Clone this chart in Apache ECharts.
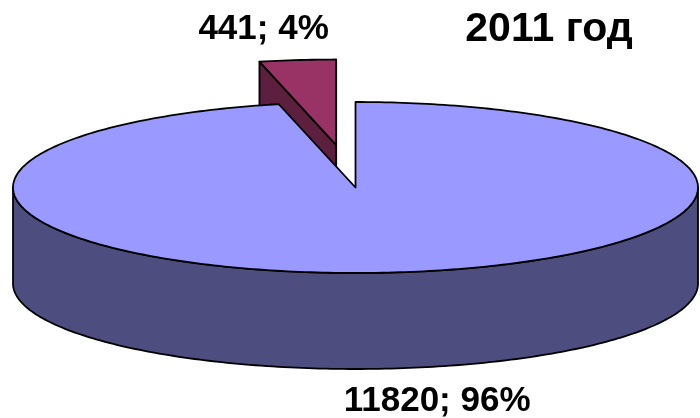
<!doctype html>
<html lang="ru">
  <head>
    <meta charset="UTF-8" />
    <title>2011 год</title>
    <style>
      html, body { margin: 0; padding: 0; background: #fff; }
      #pieChart { width: 700px; height: 418px; }
    </style>
  </head>
  <body>
    <div id="pieChart"></div>

    <script src="https://cdn.jsdelivr.net/npm/echarts@6/dist/echarts.min.js"></script>
    <script>
      // данные
      const titleText = '2011 год'
      const names = ['Большой', 'Малый']
      const values = [11820, 441]

      // оформление
      const topColors = ['#9999ff', '#993366']
      const sideColors = ['#4d4d80', '#5c1f3d']
      const explode = [0, 0.5]
      const labelShift = [[43, 33], [-34, -31]]

      const total = values.reduce((a, b) => a + b, 0)
      const geo = { cx: 355.5, cy: 187.5, rx: 342.5, ry: 85.5, depth: 96 }
      const rad = (d) => (d * Math.PI) / 180

      function pt(deg, r, dz, ox, oy) {
        return [
          geo.cx + ox + geo.rx * r * Math.sin(rad(deg)),
          geo.cy + oy - geo.ry * r * Math.cos(rad(deg)) + dz
        ]
      }
      function arc(a0, a1, dz, ox, oy) {
        const pts = []
        const n = Math.max(2, Math.ceil(Math.abs(a1 - a0)))
        for (let k = 0; k <= n; k++) pts.push(pt(a0 + ((a1 - a0) * k) / n, 1, dz, ox, oy))
        return pts
      }

      function renderItem(params, api) {
        const i = params.dataIndex
        const v = api.value(0)
        let before = 0
        for (let k = 0; k < i; k++) before += values[k]
        const a0 = (before / total) * 360
        const a1 = a0 + (v / total) * 360
        const mid = (a0 + a1) / 2
        const e = explode[i]
        const ox = geo.rx * e * Math.sin(rad(mid))
        const oy = -geo.ry * e * Math.cos(rad(mid))
        const base = Math.round((1 - Math.cos(rad(mid))) * 10)
        const line = { stroke: '#000', lineWidth: 1.8, lineJoin: 'round' }
        const children = []

        // боковая стенка (видимая часть: 90..270)
        const s0 = Math.max(a0, 90)
        const s1 = Math.min(a1, 270)
        if (s1 > s0) {
          const pts = arc(s0, s1, 0, ox, oy).concat(arc(s1, s0, geo.depth, ox, oy))
          children.push({ type: 'polygon', z2: base + 2, shape: { points: pts },
            style: Object.assign({ fill: sideColors[i] }, line) })
        }
        // радиальные грани
        const c0 = pt(0, 0, 0, ox, oy)
        const c1 = pt(0, 0, geo.depth, ox, oy)
        if (Math.sin(rad(a0)) < -1e-6) {
          children.push({ type: 'polygon', z2: base + 1,
            shape: { points: [c0, pt(a0, 1, 0, ox, oy), pt(a0, 1, geo.depth, ox, oy), c1] },
            style: Object.assign({ fill: sideColors[i] }, line) })
        }
        if (Math.sin(rad(a1)) > 1e-6) {
          children.push({ type: 'polygon', z2: base + 1,
            shape: { points: [c0, pt(a1, 1, 0, ox, oy), pt(a1, 1, geo.depth, ox, oy), c1] },
            style: Object.assign({ fill: sideColors[i] }, line) })
        }
        // верхняя грань
        children.push({ type: 'polygon', z2: base + 3,
          shape: { points: [c0].concat(arc(a0, a1, 0, ox, oy)) },
          style: Object.assign({ fill: topColors[i] }, line) })

        // подпись
        const front = Math.cos(rad(mid)) < 0
        const lp = pt(mid, 1, front ? geo.depth : 0, ox, oy)
        children.push({ type: 'text', z2: 50,
          x: lp[0] + labelShift[i][0], y: lp[1] + labelShift[i][1],
          style: {
            text: v + '; ' + Math.round((v / total) * 100) + '%',
            font: 'bold 35px "Liberation Sans", Arial, sans-serif',
            fill: '#000', align: 'center', verticalAlign: 'middle'
          } })

        return { type: 'group', children }
      }

      const chart = echarts.init(document.querySelector('#pieChart'))
      chart.setOption({
        animation: false,
        graphic: [{
          type: 'text', x: 549, y: 30,
          style: {
            text: titleText,
            font: 'bold 41px "Liberation Sans", Arial, sans-serif',
            fill: '#000', align: 'center', verticalAlign: 'middle'
          }
        }],
        series: [{
          type: 'custom',
          coordinateSystem: 'none',
          renderItem,
          data: values.map((v, i) => ({ name: names[i], value: [v] }))
        }]
      })
    </script>
  </body>
</html>
